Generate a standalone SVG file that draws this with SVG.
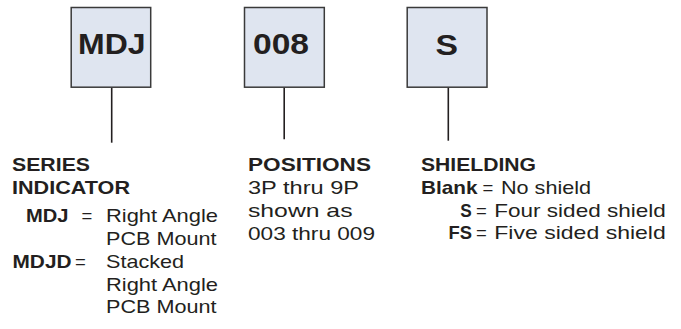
<svg xmlns="http://www.w3.org/2000/svg" width="681" height="329" viewBox="0 0 681 329">
<style>
text{font-family:"Liberation Sans",Arial,sans-serif;fill:#231f20;font-size:18.5px}
.b{font-weight:bold}
.box{fill:#dfe5f0;stroke:#3a3a3a;stroke-width:1.5}
.big{font-size:29.5px;font-weight:bold}
.con line{stroke:#231f20;stroke-width:1.6}
</style>
<rect width="681" height="329" fill="#ffffff"/>
<g id="connectors" class="con">
<line x1="111.7" y1="87.5" x2="111.7" y2="142.7"/>
<line x1="284.2" y1="87.5" x2="284.2" y2="139.3"/>
<line x1="448.3" y1="87.5" x2="448.3" y2="140.7"/>
</g>
<g id="box-mdj">
<rect class="box" x="71.2" y="7.5" width="79.5" height="79.7"/>
<text class="big" x="78" y="54.3" textLength="67.5" lengthAdjust="spacingAndGlyphs">MDJ</text>
</g>
<g id="box-008">
<rect class="box" x="244.5" y="7.5" width="79.8" height="79.7"/>
<text class="big" x="253" y="54.3" textLength="56" lengthAdjust="spacingAndGlyphs">008</text>
</g>
<g id="box-s">
<rect class="box" x="407.2" y="7.5" width="79.8" height="79.7"/>
<text class="big" x="435.5" y="54.5" textLength="22.5" lengthAdjust="spacingAndGlyphs">S</text>
</g>
<g id="series">
<text class="b" x="12" y="170.5" textLength="78" lengthAdjust="spacingAndGlyphs">SERIES</text>
<text class="b" x="12" y="194.3" textLength="118" lengthAdjust="spacingAndGlyphs">INDICATOR</text>
<text class="b" x="26" y="221.5" textLength="42.5" lengthAdjust="spacingAndGlyphs">MDJ</text>
<text x="81.5" y="221.5">=</text>
<text x="106" y="221.5" textLength="112" lengthAdjust="spacingAndGlyphs">Right Angle</text>
<text x="106" y="244.5" textLength="110.5" lengthAdjust="spacingAndGlyphs">PCB Mount</text>
<text class="b" x="12.5" y="267.5" textLength="59" lengthAdjust="spacingAndGlyphs">MDJD</text>
<text x="75" y="267.5">=</text>
<text x="106" y="267.5" textLength="78" lengthAdjust="spacingAndGlyphs">Stacked</text>
<text x="106" y="290.5" textLength="112" lengthAdjust="spacingAndGlyphs">Right Angle</text>
<text x="106" y="313.3" textLength="110.5" lengthAdjust="spacingAndGlyphs">PCB Mount</text>
</g>
<g id="positions">
<text class="b" x="248" y="171" textLength="123" lengthAdjust="spacingAndGlyphs">POSITIONS</text>
<text x="248" y="194" textLength="111" lengthAdjust="spacingAndGlyphs">3P thru 9P</text>
<text x="248" y="216.5" textLength="104.5" lengthAdjust="spacingAndGlyphs">shown as</text>
<text x="248" y="239.5" textLength="127" lengthAdjust="spacingAndGlyphs">003 thru 009</text>
</g>
<g id="shielding">
<text class="b" x="421" y="171" textLength="115" lengthAdjust="spacingAndGlyphs">SHIELDING</text>
<text class="b" x="421" y="194.3" textLength="56.5" lengthAdjust="spacingAndGlyphs">Blank</text>
<text x="482.5" y="194.3">=</text>
<text x="501" y="194.3" textLength="90" lengthAdjust="spacingAndGlyphs">No shield</text>
<text class="b" x="460.3" y="216.5" textLength="11.5" lengthAdjust="spacingAndGlyphs">S</text>
<text x="476" y="216.5">=</text>
<text x="494.3" y="216.5" textLength="171.5" lengthAdjust="spacingAndGlyphs">Four sided shield</text>
<text class="b" x="448.5" y="239" textLength="23.5" lengthAdjust="spacingAndGlyphs">FS</text>
<text x="476" y="239">=</text>
<text x="494.3" y="239" textLength="171.5" lengthAdjust="spacingAndGlyphs">Five sided shield</text>
</g>
</svg>
